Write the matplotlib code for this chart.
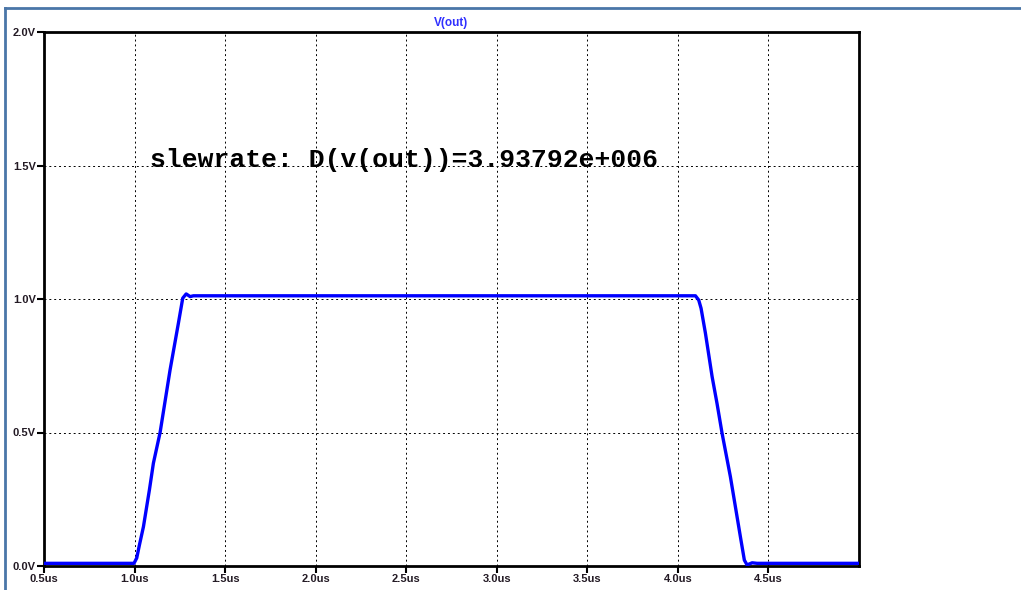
import numpy as np
import matplotlib.pyplot as plt
from matplotlib.lines import Line2D

# Waveform V(out) (time in us, volts)
t_us = [0.5, 0.997, 1.012, 1.027, 1.049, 1.082, 1.104, 1.141, 1.196, 1.242,
        1.266, 1.285, 1.307, 1.325, 4.097, 4.115, 4.128, 4.152, 4.189, 4.216,
        4.244, 4.290, 4.345, 4.367, 4.382, 4.410, 4.437, 5.0]
v_out = [0.010, 0.010, 0.030, 0.079, 0.147, 0.285, 0.385, 0.500, 0.734, 0.909,
         1.003, 1.019, 1.009, 1.012, 1.012, 0.996, 0.965, 0.872, 0.709, 0.609,
         0.497, 0.334, 0.110, 0.022, 0.004, 0.012, 0.010, 0.010]

x_ticks = [0.5, 1.0, 1.5, 2.0, 2.5, 3.0, 3.5, 4.0, 4.5]
x_labels = ["0.5us", "1.0us", "1.5us", "2.0us", "2.5us", "3.0us", "3.5us", "4.0us", "4.5us"]
y_ticks = [0.0, 0.5, 1.0, 1.5, 2.0]
y_labels = ["0.0V", "0.5V", "1.0V", "1.5V", "2.0V"]

annotation = "slewrate: D(v(out))=3.93792e+006"

label_color = "#231a24"

fig = plt.figure(figsize=(10.21, 5.90), dpi=100)
ax = fig.add_axes([44 / 1021, 24 / 590, 815 / 1021, 534 / 590])

ax.plot(t_us, v_out, color="#0000ff", linewidth=2.4, zorder=3)

ax.set_xlim(0.5, 5.0)
ax.set_ylim(0.0, 2.0)
ax.set_xticks(x_ticks)
ax.set_xticklabels(x_labels)
ax.set_yticks(y_ticks)
ax.set_yticklabels(y_labels)
ax.tick_params(axis="both", direction="out", length=5, width=1.5, color="black",
               labelsize=8, labelcolor=label_color, pad=1)
for lbl in ax.get_xticklabels() + ax.get_yticklabels():
    lbl.set_fontweight("bold")
    lbl.set_family("Liberation Sans")

ax.grid(True, color="black", linestyle=(0, (2, 3)), linewidth=0.7)
for s in ax.spines.values():
    s.set_linewidth(2)
    s.set_color("black")

ax.set_title("V(out)", color="#3030ff", fontsize=8.5, fontweight="bold",
             family="Liberation Sans", pad=4)

ax.text(1.086, 1.495, annotation, family="Liberation Mono", fontweight="bold",
        fontsize=19, color="black", va="baseline", ha="left", zorder=4)

# window frame of the waveform viewer
frame = "#4a76a8"
fig.add_artist(Line2D([5 / 1021, 1.0], [1 - 8 / 590, 1 - 8 / 590], color=frame, linewidth=2))
fig.add_artist(Line2D([5 / 1021, 5 / 1021], [0.0, 1 - 8 / 590], color=frame, linewidth=2))

plt.savefig("out.png", dpi=100)
